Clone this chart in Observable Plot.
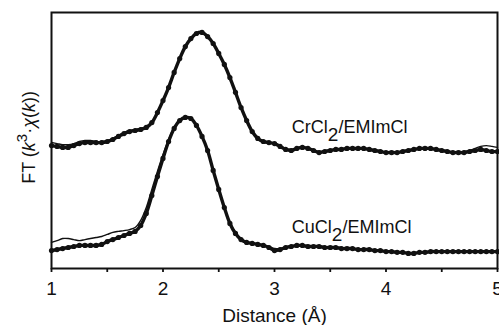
<!DOCTYPE html>
<html><head><meta charset="utf-8">
<script src="https://cdn.jsdelivr.net/npm/d3@7"></script>
<script src="https://cdn.jsdelivr.net/npm/@observablehq/plot@0.6"></script>
<style>body{margin:0;background:#fff}</style>
</head><body><div id="chart"></div>
<script>
// Distance grid (Å)
const distance = [1.00,1.05,1.10,1.15,1.20,1.25,1.30,1.35,1.40,1.45,1.50,1.55,1.60,1.65,1.70,1.75,1.80,1.85,1.90,1.95,
2.00,2.05,2.10,2.15,2.20,2.25,2.30,2.35,2.40,2.45,2.50,2.55,2.60,2.65,2.70,2.75,2.80,2.85,2.90,2.95,
3.00,3.05,3.10,3.15,3.20,3.25,3.30,3.35,3.40,3.45,3.50,3.55,3.60,3.65,3.70,3.75,3.80,3.85,3.90,3.95,
4.00,4.05,4.10,4.15,4.20,4.25,4.30,4.35,4.40,4.45,4.50,4.55,4.60,4.65,4.70,4.75,4.80,4.85,4.90,4.95,5.00];
// CrCl2/EMImCl (offset) – experiment and fit
const crData = [4.80,4.77,4.73,4.73,4.80,4.88,4.92,4.92,4.92,4.92,4.96,5.04,5.16,5.27,5.35,5.39,5.43,5.51,5.70,6.09,
6.56,7.07,7.66,8.20,8.67,8.98,9.18,9.22,9.06,8.79,8.40,7.97,7.46,6.88,6.29,5.78,5.35,5.08,4.96,4.92,
4.88,4.77,4.65,4.61,4.69,4.73,4.69,4.61,4.53,4.57,4.61,4.65,4.65,4.69,4.69,4.69,4.69,4.65,4.61,4.57,
4.53,4.53,4.53,4.57,4.61,4.65,4.69,4.69,4.69,4.65,4.61,4.57,4.53,4.53,4.53,4.57,4.61,4.65,4.61,4.57,4.57];
const crFit = [4.92,4.88,4.84,4.84,4.88,4.96,5.00,5.00,4.96,4.96,5.00,5.08,5.20,5.31,5.39,5.43,5.47,5.55,5.70,6.09,
6.56,7.07,7.66,8.20,8.67,8.98,9.18,9.22,9.06,8.79,8.40,7.97,7.46,6.88,6.29,5.78,5.35,5.08,4.96,4.92,
4.88,4.80,4.69,4.65,4.69,4.73,4.69,4.63,4.57,4.59,4.63,4.65,4.67,4.69,4.69,4.69,4.69,4.65,4.61,4.57,
4.55,4.55,4.55,4.57,4.61,4.65,4.69,4.69,4.69,4.65,4.61,4.57,4.55,4.55,4.57,4.61,4.69,4.77,4.80,4.77,4.73];
// CuCl2/EMImCl – experiment and fit
const cuData = [0.70,0.74,0.78,0.82,0.86,0.90,0.90,0.90,0.90,0.94,1.05,1.13,1.21,1.29,1.37,1.45,1.68,2.15,2.85,3.59,
4.30,4.96,5.47,5.78,5.90,5.86,5.59,5.16,4.61,3.83,3.09,2.38,1.76,1.37,1.13,1.02,0.98,0.94,0.90,0.82,
0.70,0.74,0.82,0.86,0.90,0.90,0.86,0.86,0.86,0.82,0.82,0.82,0.78,0.78,0.78,0.74,0.74,0.74,0.70,0.70,
0.66,0.66,0.63,0.63,0.59,0.59,0.63,0.63,0.66,0.66,0.66,0.66,0.66,0.66,0.66,0.66,0.66,0.66,0.66,0.66,0.66];
const cuFit = [1.02,1.09,1.17,1.17,1.13,1.09,1.13,1.17,1.21,1.25,1.33,1.41,1.45,1.48,1.52,1.60,1.88,2.38,3.09,3.79,
4.45,5.04,5.51,5.78,5.90,5.86,5.59,5.16,4.61,3.83,3.09,2.38,1.80,1.41,1.17,1.05,0.98,0.94,0.90,0.86,
0.78,0.78,0.82,0.86,0.90,0.90,0.86,0.86,0.86,0.82,0.82,0.82,0.78,0.78,0.78,0.74,0.74,0.74,0.70,0.70,
0.66,0.66,0.63,0.63,0.59,0.59,0.63,0.63,0.66,0.66,0.66,0.66,0.66,0.66,0.66,0.66,0.66,0.66,0.66,0.66,0.66];

const majorTicks = [1, 2, 3, 4, 5];
const minorTicks = [1.5, 2.5, 3.5, 4.5];
const sampleBase = ["CrCl", "CuCl"];
const sampleRest = ["/EMImCl", "/EMImCl"];
const labelAt = [[3.16, 5.27], [3.16, 1.37]];

const rows = (ys) => distance.map((d, i) => ({x: d, y: ys[i]}));
const data = [rows(crData), rows(cuData)];
const fits = [rows(crFit), rows(cuFit)];

const font = "Liberation Sans, Arial, Helvetica, sans-serif";
const chart = Plot.plot({
  width: 499, height: 325,
  marginTop: 12, marginBottom: 57, marginLeft: 51, marginRight: 2,
  style: {fontFamily: font, fontSize: "19px", color: "#111", background: "#fff"},
  x: {domain: [1, 5]},
  y: {domain: [0, 10], axis: null},
  marks: [
    ...data.map(d => Plot.line(d, {x: "x", y: "y", stroke: "#111", strokeWidth: 3.4, curve: "catmull-rom"})),
    ...data.map(d => Plot.dot(d, {x: "x", y: "y", r: 2.6, fill: "#111", stroke: "none"})),
    ...fits.map(d => Plot.line(d, {x: "x", y: "y", stroke: "#111", strokeWidth: 1.4, curve: "catmull-rom"})),
    Plot.axisX({ticks: minorTicks, tickFormat: () => "", tickSize: 4, strokeWidth: 1.8, label: null}),
    Plot.axisX({ticks: majorTicks, tickFormat: d3.format("d"), tickSize: 4, strokeWidth: 1.8, tickPadding: 9,
      label: "Distance (Å)", labelAnchor: "center", labelArrow: "none", labelOffset: 53}),
    Plot.frame({stroke: "#111", strokeWidth: 2})
  ]
});
document.getElementById("chart").appendChild(chart);

const sx = chart.scale("x"), sy = chart.scale("y");
const svg = d3.select(chart);
// y-axis label with italic k, superscript 3, italic chi
const yl = svg.append("text")
  .attr("transform", `translate(35,${sy.apply(5.1)}) rotate(-90)`)
  .attr("text-anchor", "middle").attr("font-family", font).attr("font-size", 18).attr("fill", "#111");
yl.append("tspan").text("FT (");
yl.append("tspan").attr("font-style", "italic").text("k");
yl.append("tspan").attr("font-size", 15).attr("dy", -8).text("3");
yl.append("tspan").attr("dy", 8).text("·");
yl.append("tspan").attr("font-style", "italic").text("χ");
yl.append("tspan").text("(");
yl.append("tspan").attr("font-style", "italic").text("k");
yl.append("tspan").text("))");

// Sample labels with subscript 2
sampleBase.forEach((b, i) => {
  const t = svg.append("text")
    .attr("x", sx.apply(labelAt[i][0])).attr("y", sy.apply(labelAt[i][1]))
    .attr("text-anchor", "start")
    .attr("font-family", font).attr("font-size", 18).attr("fill", "#111");
  t.append("tspan").text(b);
  t.append("tspan").attr("dy", 8).attr("font-size", 19).text("2");
  t.append("tspan").attr("dy", -8).text(sampleRest[i]);
});
</script>
</body></html>
